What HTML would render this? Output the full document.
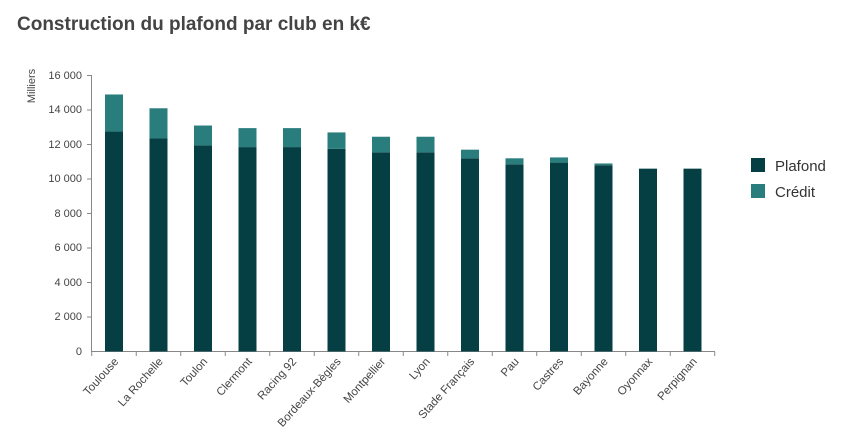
<!DOCTYPE html>
<html><head><meta charset="utf-8"><style>
body{margin:0;background:#fff;}
svg{display:block;font-family:"Liberation Sans",sans-serif;}
</style></head><body>
<svg width="855" height="435" viewBox="0 0 855 435">
<text x="17" y="30" font-size="19" font-weight="bold" fill="#444">Construction du plafond par club en k€</text>
<text transform="translate(35,86) rotate(-90)" font-size="11" fill="#444" text-anchor="middle">Milliers</text>
<g font-size="11" fill="#444" text-anchor="end">
<text x="82" y="355">0</text><text x="82" y="320">2 000</text><text x="82" y="286">4 000</text><text x="82" y="251">6 000</text><text x="82" y="217">8 000</text><text x="82" y="182">10 000</text><text x="82" y="148">12 000</text><text x="82" y="113">14 000</text><text x="82" y="79">16 000</text>
</g>
<g stroke="#888" stroke-width="1">
<line x1="91.5" y1="75" x2="91.5" y2="352"/>
<line x1="87" y1="75.5" x2="91" y2="75.5"/><line x1="87" y1="110" x2="91" y2="110"/><line x1="87" y1="144.5" x2="91" y2="144.5"/><line x1="87" y1="179" x2="91" y2="179"/><line x1="87" y1="213.5" x2="91" y2="213.5"/><line x1="87" y1="248" x2="91" y2="248"/><line x1="87" y1="282.5" x2="91" y2="282.5"/><line x1="87" y1="317" x2="91" y2="317"/>
<line x1="91" y1="351.5" x2="715" y2="351.5"/>
</g>
<g id="bars"></g>
<g id="labels" font-size="11.5" fill="#444"></g>
<rect x="751" y="158" width="14" height="14" fill="#053f43"/>
<text x="775" y="171" font-size="15" fill="#333">Plafond</text>
<rect x="751" y="184" width="14" height="14" fill="#2a7d7d"/>
<text x="775" y="197" font-size="15" fill="#333">Crédit</text>
<script>
var d=[["Toulouse",12750,14900],["La Rochelle",12350,14100],["Toulon",11950,13100],["Clermont",11850,12950],["Racing 92",11850,12950],["Bordeaux-Bègles",11750,12700],["Montpellier",11550,12450],["Lyon",11550,12450],["Stade Français",11200,11700],["Pau",10850,11200],["Castres",10950,11250],["Bayonne",10800,10900],["Oyonnax",10600,10600],["Perpignan",10600,10600]];
var ns="http://www.w3.org/2000/svg",b=document.getElementById("bars"),l=document.getElementById("labels");
function y(v){return 351.5-v*0.01725;}
function r(p,a){var e=document.createElementNS(ns,p);for(var k in a)e.setAttribute(k,a[k]);return e;}
d.forEach(function(o,i){
 var c=114+i*44.5,x=c-9;
 b.appendChild(r("rect",{x:x,y:y(o[1]),width:18,height:351.5-y(o[1]),fill:"#053f43"}));
 if(o[2]>o[1])b.appendChild(r("rect",{x:x,y:y(o[2]),width:18,height:y(o[1])-y(o[2]),fill:"#2a7d7d"}));
 b.appendChild(r("line",{x1:c-22.25,y1:352,x2:c-22.25,y2:356,stroke:"#888"}));
 var t=r("text",{transform:"translate("+(c+5)+",362) rotate(-48)","text-anchor":"end"});t.textContent=o[0];l.appendChild(t);
});
b.appendChild(r("line",{x1:114+13.5*44.5,y1:352,x2:114+13.5*44.5,y2:356,stroke:"#888"}));
</script>
</svg>
</body></html>
